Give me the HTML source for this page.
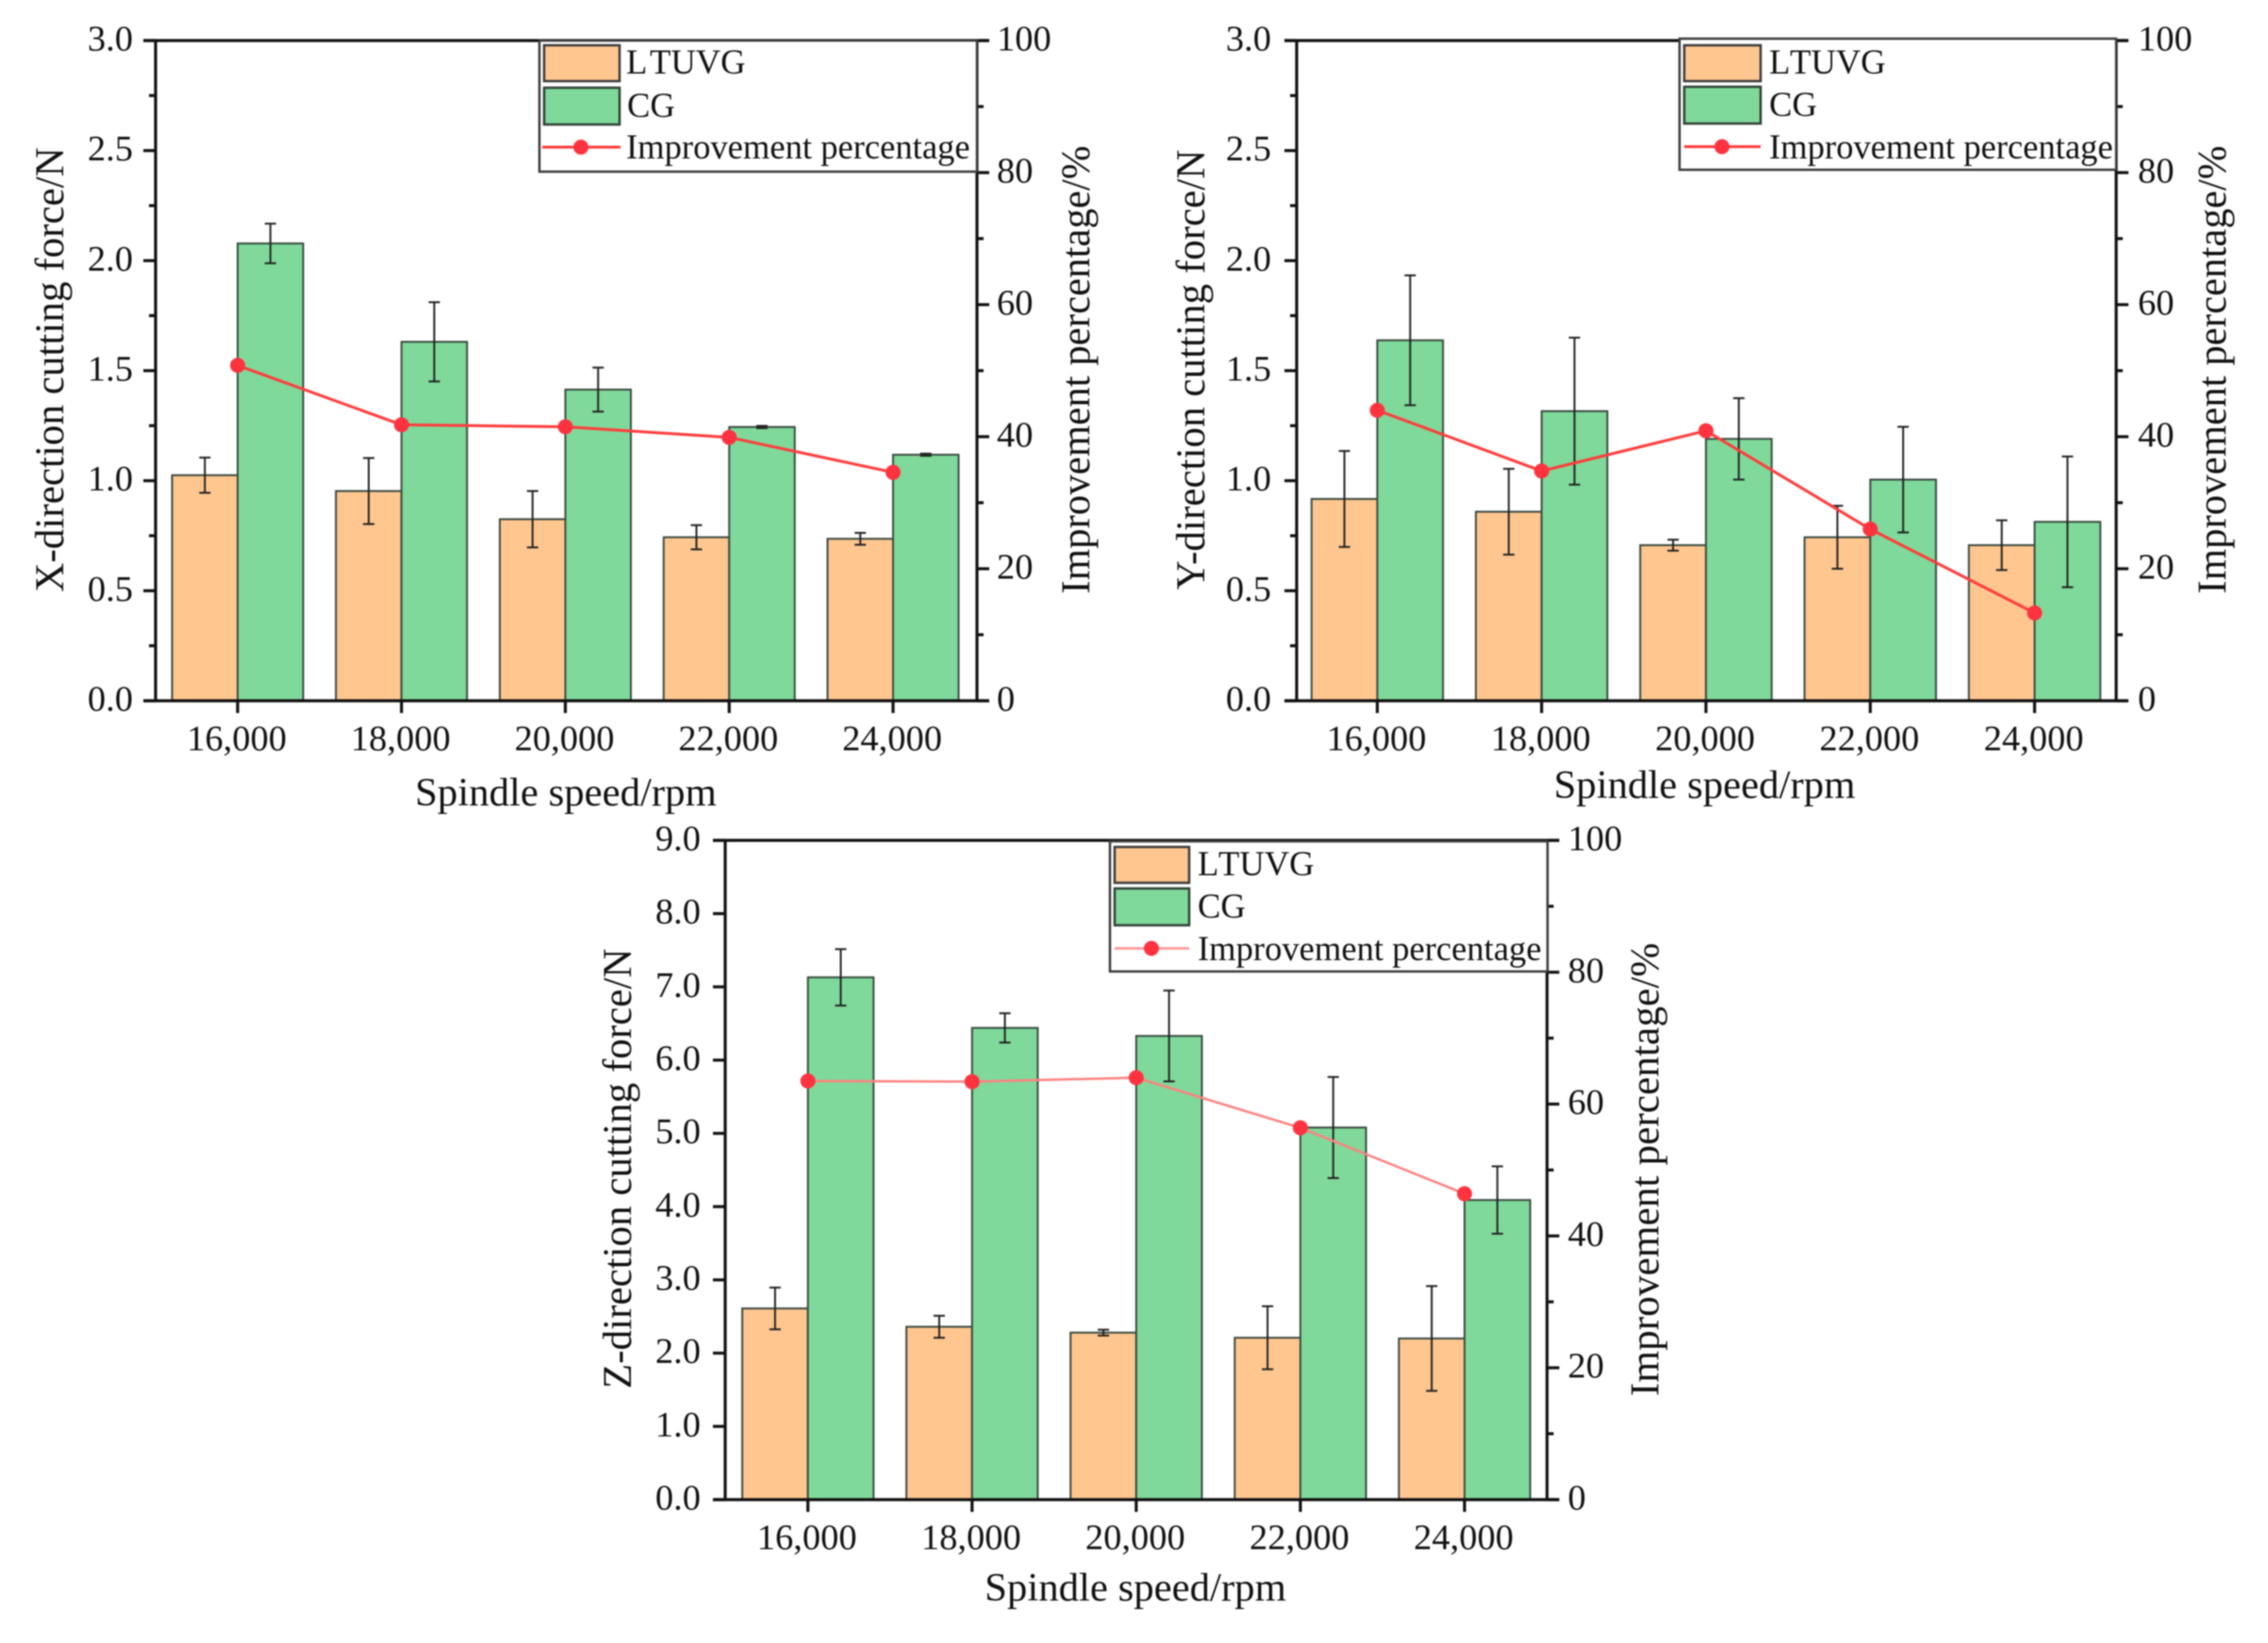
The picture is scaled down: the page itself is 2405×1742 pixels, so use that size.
<!DOCTYPE html>
<html lang="en">
<head>
<meta charset="utf-8">
<title>Cutting force charts</title>
<style>
html,body{margin:0;padding:0;background:#fff;}
svg{display:block;filter:blur(0.8px);}
text{font-family:"Liberation Serif",serif;fill:#111;}
.tick{font-size:38.5px;}
.title{font-size:42.8px;text-anchor:middle;}
.ytitle{font-size:43.1px;}
.rtitle{font-size:42.9px;}
.leg{font-size:36.6px;}
.box{fill:#fff;stroke:#3a3a3a;stroke-width:2.5;}
.sw-a{fill:#FFC68F;stroke:#3a3a3a;stroke-width:2.5;}
.sw-b{fill:#7FD99A;stroke:#2f3f35;stroke-width:2.5;}
</style>
</head>
<body>
<svg id="fig" width="2405" height="1742" viewBox="0 0 2405 1742" xmlns="http://www.w3.org/2000/svg">
<rect x="0" y="0" width="2405" height="1742" fill="#fff"/>

<g id="panel-x">
  <g class="marks"></g>
  <text class="title ytitle" transform="translate(67,392) rotate(-90)">X-direction cutting force/N</text>
  <text class="title rtitle" transform="translate(1155,392) rotate(-90)">Improvement percentage/%</text>
  <text class="title" x="600" y="854">Spindle speed/rpm</text>
  <g>
    <rect class="box" x="572" y="43" width="464" height="139"/>
    <rect class="sw-a" x="577" y="48" width="80" height="38"/>
    <text class="leg" x="664" y="78"><tspan>L</tspan><tspan dx="6">TUVG</tspan></text>
    <rect class="sw-b" x="577" y="93" width="80" height="39"/>
    <text class="leg" x="665" y="124">CG</text>
    <line x1="575" x2="658" y1="156" y2="156" stroke="#ff3b3b" stroke-width="3"/>
    <circle cx="616" cy="156" r="8" fill="#ff3340"/>
    <text class="leg" x="664" y="168">Improvement percentage</text>
  </g>
</g>

<g id="panel-y">
  <g class="marks"></g>
  <text class="title ytitle" transform="translate(1277,392) rotate(-90)">Y-direction cutting force/N</text>
  <text class="title rtitle" transform="translate(2360,392) rotate(-90)">Improvement percentage/%</text>
  <text class="title" x="1807.5" y="846">Spindle speed/rpm</text>
  <g>
    <rect class="box" x="1781" y="41" width="463" height="139"/>
    <rect class="sw-a" x="1786" y="48" width="81" height="38"/>
    <text class="leg" x="1876" y="78"><tspan>L</tspan><tspan dx="3">TUVG</tspan></text>
    <rect class="sw-b" x="1786" y="92" width="81" height="39"/>
    <text class="leg" x="1876" y="123">CG</text>
    <line x1="1786" x2="1867" y1="155.5" y2="155.5" stroke="#ff3b3b" stroke-width="3"/>
    <circle cx="1826" cy="155.5" r="8" fill="#ff3340"/>
    <text class="leg" x="1876" y="168">Improvement percentage</text>
  </g>
</g>

<g id="panel-z">
  <g class="marks"></g>
  <text class="title ytitle" transform="translate(669,1239) rotate(-90)">Z-direction cutting force/N</text>
  <text class="title" style="font-size:43.4px" transform="translate(1758.5,1240) rotate(-90)">Improvement percentage/%</text>
  <text class="title" x="1204" y="1697">Spindle speed/rpm</text>
  <g>
    <rect class="box" x="1177" y="892" width="464" height="138"/>
    <rect class="sw-a" x="1182" y="898" width="79" height="38"/>
    <text class="leg" x="1270" y="928"><tspan>L</tspan><tspan dx="3">TUVG</tspan></text>
    <rect class="sw-b" x="1182" y="942" width="79" height="39"/>
    <text class="leg" x="1270" y="973">CG</text>
    <line x1="1182" x2="1261" y1="1005.5" y2="1005.5" stroke="#ff9090" stroke-width="2.5"/>
    <circle cx="1221" cy="1005.5" r="8" fill="#ff3340"/>
    <text class="leg" x="1270" y="1018">Improvement percentage</text>
  </g>
</g>
</svg>

<script>
const categories = ["16,000", "18,000", "20,000", "22,000", "24,000"];
const improvementTicks = ["0", "20", "40", "60", "80", "100"];

const xTicks = ["0.0", "0.5", "1.0", "1.5", "2.0", "2.5", "3.0"];
const xLtuvg = [1.025, 0.953, 0.825, 0.743, 0.736];
const xLtuvgErr = [0.08, 0.15, 0.128, 0.055, 0.027];
const xCg = [2.078, 1.631, 1.414, 1.244, 1.118];
const xCgErr = [0.09, 0.18, 0.1, 0.005, 0.005];
const xImprovement = [50.8, 41.8, 41.5, 39.9, 34.6];

const yTicks = ["0.0", "0.5", "1.0", "1.5", "2.0", "2.5", "3.0"];
const yLtuvg = [0.917, 0.859, 0.707, 0.743, 0.707];
const yLtuvgErr = [0.218, 0.195, 0.025, 0.143, 0.113];
const yCg = [1.638, 1.316, 1.19, 1.005, 0.813];
const yCgErr = [0.295, 0.334, 0.185, 0.24, 0.297];
const yImprovement = [44.0, 34.8, 40.9, 26.0, 13.3];

const zTicks = ["0.0", "1.0", "2.0", "3.0", "4.0", "5.0", "6.0", "7.0", "8.0", "9.0"];
const zLtuvg = [2.61, 2.36, 2.28, 2.21, 2.2];
const zLtuvgErr = [0.285, 0.15, 0.04, 0.43, 0.715];
const zCg = [7.13, 6.44, 6.33, 5.08, 4.09];
const zCgErr = [0.385, 0.2, 0.62, 0.69, 0.46];
const zImprovement = [63.5, 63.4, 64.0, 56.4, 46.4];

const SVGNS = "http://www.w3.org/2000/svg";

function mk(parent, tag, attrs, name) {
  const el = document.createElementNS(SVGNS, tag);
  for (const k in attrs) el.setAttribute(k, attrs[k]);
  
  
  parent.appendChild(el);
  return el;
}

function drawPanel(cfg) {
  const g = document.querySelector('#' + cfg.id + ' .marks');
  const p = cfg.prefix;
  const leftTicks = cfg.ticks.map(Number);
  const yMax = Math.max.apply(null, leftTicks);
  const yStep = leftTicks[1] - leftTicks[0];
  const yL = v => cfg.bottom - (v / yMax) * (cfg.bottom - cfg.top);
  const yR = v => cfg.bottom - (v / 100) * (cfg.bottom - cfg.top);
  const step = (cfg.cat1 - cfg.cat0) / (categories.length - 1);
  const xC = i => cfg.cat0 + i * step;
  const barW = step * 0.4;

  categories.forEach((c, i) => {
    [[cfg.a, cfg.aErr, -barW, '#FFC68F', 'ltuvg'], [cfg.b, cfg.bErr, 0, '#7FD99A', 'cg']].forEach(s => {
      const vals = s[0], off = s[2], col = s[3], nm = s[4];
      const x = xC(i) + off;
      mk(g, 'rect', {x: x, y: yL(vals[i]), width: barW, height: cfg.bottom - yL(vals[i]), fill: col, stroke: '#3a4a40', 'stroke-width': 2}, p + '-bar-' + nm + '-' + i);
    });
  });

  /* axes */
  const axisAttrs = {stroke: '#111', 'stroke-width': 3.2};
  mk(g, 'line', Object.assign({x1: cfg.left, x2: cfg.left, y1: cfg.top, y2: cfg.bottom}, axisAttrs), p + '-left-axis');
  mk(g, 'line', Object.assign({x1: cfg.right, x2: cfg.right, y1: cfg.top, y2: cfg.bottom}, axisAttrs), p + '-right-axis');
  mk(g, 'line', Object.assign({x1: cfg.left - 13, x2: cfg.right + 13, y1: cfg.top, y2: cfg.top}, axisAttrs), p + '-top-axis');
  mk(g, 'line', Object.assign({x1: cfg.left - 13, x2: cfg.right + 13, y1: cfg.bottom, y2: cfg.bottom}, axisAttrs), p + '-bottom-axis');

  /* left ticks */
  cfg.ticks.forEach((t, i) => {
    const y = yL(leftTicks[i]);
    mk(g, 'line', Object.assign({x1: cfg.left - 13, x2: cfg.left, y1: y, y2: y}, axisAttrs), p + '-left-tick-' + i);
    const lab = mk(g, 'text', {class: 'tick', x: cfg.left - cfg.leftPad, y: y + 10.5, 'text-anchor': 'end'}, p + '-left-tick-label-' + i);
    lab.textContent = t;
    if (cfg.leftMinor && i < cfg.ticks.length - 1) {
      const ym = yL(leftTicks[i] + yStep / 2);
      mk(g, 'line', Object.assign({x1: cfg.left - 7, x2: cfg.left, y1: ym, y2: ym}, axisAttrs), p + '-left-minor-tick-' + i);
    }
  });

  /* right ticks */
  improvementTicks.forEach((t, i) => {
    const v = Number(t);
    const y = yR(v);
    mk(g, 'line', Object.assign({x1: cfg.right, x2: cfg.right + 13, y1: y, y2: y}, axisAttrs), p + '-right-tick-' + i);
    const lab = mk(g, 'text', {class: 'tick', x: cfg.right + cfg.rightPad, y: y + 10.5}, p + '-right-tick-label-' + i);
    lab.textContent = t;
    if (i < improvementTicks.length - 1) {
      const ym = yR(v + 10);
      mk(g, 'line', Object.assign({x1: cfg.right, x2: cfg.right + 7, y1: ym, y2: ym}, axisAttrs), p + '-right-minor-tick-' + i);
    }
  });

  /* category ticks */
  categories.forEach((c, i) => {
    mk(g, 'line', Object.assign({x1: xC(i), x2: xC(i), y1: cfg.bottom, y2: cfg.bottom + 13}, axisAttrs), p + '-x-tick-' + i);
    const lab = mk(g, 'text', {class: 'tick', x: xC(i) - 1, y: cfg.bottom + 52.5, 'text-anchor': 'middle'}, p + '-x-tick-label-' + i);
    lab.textContent = c;
  });

  /* error bars */
  categories.forEach((c, i) => {
    [[cfg.a, cfg.aErr, -barW / 2, 'ltuvg'], [cfg.b, cfg.bErr, barW / 2, 'cg']].forEach(s => {
      const vals = s[0], errs = s[1], nm = s[3];
      const x = xC(i) + s[2];
      const hi = yL(vals[i] + errs[i]), lo = yL(vals[i] - errs[i]);
      const eb = {stroke: '#222', 'stroke-width': 2};
      mk(g, 'line', Object.assign({x1: x, x2: x, y1: hi, y2: lo}, eb), p + '-error-' + nm + '-' + i);
      mk(g, 'line', Object.assign({x1: x - 6, x2: x + 6, y1: hi, y2: hi}, eb), p + '-error-cap-top-' + nm + '-' + i);
      mk(g, 'line', Object.assign({x1: x - 6, x2: x + 6, y1: lo, y2: lo}, eb), p + '-error-cap-bottom-' + nm + '-' + i);
    });
  });

  /* improvement line */
  const pts = cfg.imp.map((v, i) => xC(i) + ',' + yR(v)).join(' ');
  mk(g, 'polyline', {points: pts, fill: 'none', stroke: cfg.lineColor, 'stroke-width': cfg.lineWidth}, p + '-improvement-line');
  cfg.imp.forEach((v, i) => {
    mk(g, 'circle', {cx: xC(i), cy: yR(v), r: 8, fill: '#ff3340'}, p + '-improvement-point-' + i);
  });
}

drawPanel({id: 'panel-x', prefix: 'x', left: 165, right: 1036, top: 43, bottom: 743, cat0: 252, cat1: 947, ticks: xTicks, a: xLtuvg, aErr: xLtuvgErr, b: xCg, bErr: xCgErr, imp: xImprovement, lineColor: '#ff3b3b', lineWidth: 3, leftPad: 24, rightPad: 21, leftMinor: true});
drawPanel({id: 'panel-y', prefix: 'y', left: 1375, right: 2244, top: 43, bottom: 743, cat0: 1460.5, cat1: 2157.5, ticks: yTicks, a: yLtuvg, aErr: yLtuvgErr, b: yCg, bErr: yCgErr, imp: yImprovement, lineColor: '#ff3b3b', lineWidth: 3, leftPad: 27, rightPad: 23, leftMinor: true});
drawPanel({id: 'panel-z', prefix: 'z', left: 769, right: 1640.5, top: 891, bottom: 1590, cat0: 856.7, cat1: 1553, ticks: zTicks, a: zLtuvg, aErr: zLtuvgErr, b: zCg, bErr: zCgErr, imp: zImprovement, lineColor: '#ff8080', lineWidth: 2.5, leftPad: 26, rightPad: 22, leftMinor: false});
</script>
</body>
</html>
